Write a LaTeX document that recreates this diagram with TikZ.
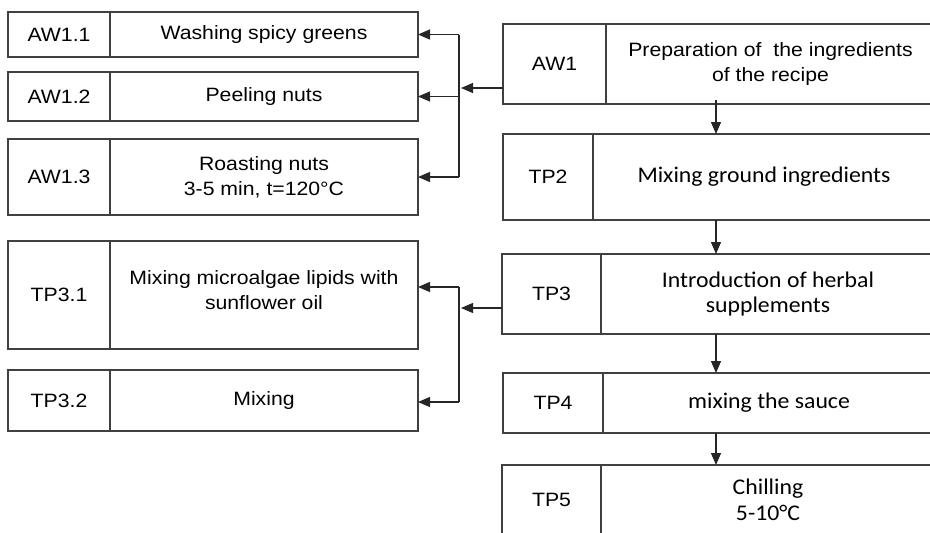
\documentclass[tikz,border=0pt]{standalone}
\usepackage{fontspec}
\setmainfont{Liberation Sans}[FakeStretch = 1.1]
\newfontfamily\calfont{Carlito}[FakeStretch = 1.06]
\usetikzlibrary{arrows.meta,positioning}

\begin{document}
\begin{tikzpicture}[
	x = 1pt, y = -1pt,
	box/.style = {draw = black!75, line width = 1.2pt, inner sep = 0pt, outer sep = 0pt, align = center, font = \fontsize{19.3}{25.5}\selectfont},
	idbox/.style = {box, anchor = north west},
	txtbox/.style = {box},
	caltext/.style = {font = \calfont\fontsize{22.4}{25.5}\selectfont},
	arr/.style = {draw = black!85, line width = 1.3pt, -{Triangle[length = 12pt, width = 10pt]}},
	link/.style = {draw = black!85, line width = 1.3pt}
	]
	
	\clip (0, 0) rectangle (930, 533);
	
	% left column
	\node[idbox, minimum width = 102, minimum height = 45](aw11) at (8, 12){AW1.1};
	\node[txtbox, minimum width = 308, minimum height = 45, right = 0pt of aw11](aw11t){Washing spicy greens};
	\node[idbox, minimum width = 102, minimum height = 49](aw12) at (8, 72){AW1.2};
	\node[txtbox, minimum width = 308, minimum height = 49, right = 0pt of aw12](aw12t){Peeling nuts};
	\node[idbox, minimum width = 102, minimum height = 76](aw13) at (8, 139){AW1.3};
	\node[txtbox, minimum width = 308, minimum height = 76, right = 0pt of aw13](aw13t){Roasting nuts\\3-5 min, t=120°C};
	
	\node[idbox, minimum width = 102, minimum height = 108](tp31) at (8, 241){TP3.1};
	\node[txtbox, minimum width = 308, minimum height = 108, right = 0pt of tp31](tp31t){Mixing microalgae lipids with\\sunflower oil\\[-16pt]};
	\node[idbox, minimum width = 102, minimum height = 61](tp32) at (8, 370){TP3.2};
	\node[txtbox, minimum width = 308, minimum height = 61, right = 0pt of tp32](tp32t){Mixing};
	
	% right column
	\node[idbox, minimum width = 103, minimum height = 80](aw1) at (503, 24){AW1};
	\node[txtbox, minimum width = 329, minimum height = 80, right = 0pt of aw1](aw1t){Preparation of~ the ingredients\\of the recipe};
	\node[idbox, minimum width = 90, minimum height = 86](tp2) at (503, 134){TP2};
	\node[txtbox, caltext, minimum width = 342, minimum height = 86, right = 0pt of tp2](tp2t){Mixing ground ingredients};
	\node[idbox, minimum width = 99, minimum height = 80](tp3) at (502, 254){TP3};
	\node[txtbox, caltext, minimum width = 334, minimum height = 80, right = 0pt of tp3](tp3t){Introduction of herbal\\supplements};
	\node[idbox, minimum width = 100, minimum height = 60](tp4) at (503, 373){TP4};
	\node[txtbox, caltext, minimum width = 332, minimum height = 60, right = 0pt of tp4](tp4t){mixing the sauce};
	\node[idbox, minimum width = 99, minimum height = 70](tp5) at (502, 465){TP5};
	\node[txtbox, caltext, minimum width = 334, minimum height = 70, right = 0pt of tp5](tp5t){Chilling\\5-10°C};
	
	% branches
	\coordinate (j1) at (459, 88);
	\coordinate (j2) at (459, 308);
	\coordinate (b1) at (459, 287);
	\coordinate (b2) at (459, 402);
	\coordinate (spine) at (716, 0);
	
	\draw[arr] (aw1.west |- j1) -- ([xshift = 2]j1);
	\draw[link] (j1 |- aw11.east) -- (j1 |- aw13.east);
	\draw[arr] (j1 |- aw11.east) -- (aw11t.east);
	\draw[arr] (j1 |- aw12.east) -- (aw12t.east);
	\draw[arr] (j1 |- aw13.east) -- (aw13t.east);
	
	\draw[arr] (tp3.west |- j2) -- ([xshift = 2]j2);
	\draw[link] (b1) -- (b2);
	\draw[arr] (b1) -- (tp31t.east |- b1);
	\draw[arr] (b2) -- (tp32t.east |- b2);
	
	\draw[arr] ([yshift = 4]spine |- aw1t.south) -- (spine |- tp2t.north);
	\draw[arr] (spine |- tp2t.south) -- (spine |- tp3t.north);
	\draw[arr] (spine |- tp3t.south) -- (spine |- tp4t.north);
	\draw[arr] (spine |- tp4t.south) -- (spine |- tp5t.north);

\end{tikzpicture}
\end{document}
